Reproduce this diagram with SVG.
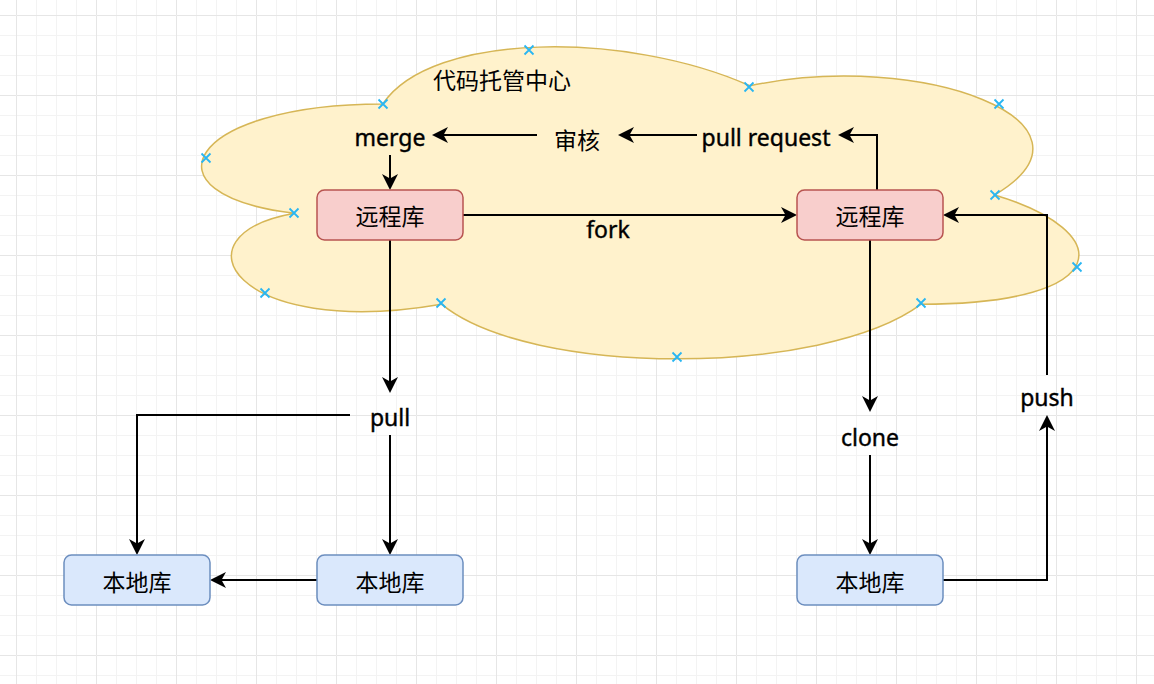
<svg xmlns="http://www.w3.org/2000/svg" width="1154" height="684" viewBox="0 0 1154 684">
  <defs>
    <pattern id="grid" x="16" y="15" width="80" height="80" patternUnits="userSpaceOnUse">
      <path d="M20,0 V80 M40,0 V80 M60,0 V80 M0,20 H80 M0,40 H80 M0,60 H80" stroke="#f3f3f3" stroke-width="1" fill="none" transform="translate(0.5,0.5)"/>
      <path d="M0,0 V80 M0,0 H80" stroke="#e6e6e6" stroke-width="1" fill="none" transform="translate(0.5,0.5)"/>
    </pattern>
    <marker id="arrow" viewBox="-17 -9 18 18" markerWidth="18" markerHeight="18" refX="-10" refY="0" orient="auto" markerUnits="userSpaceOnUse">
      <path d="M0,0 L-16,-8 L-11.5,0 L-16,8 Z" fill="#000"/>
    </marker>
    <path id="xm" d="M-4.5,-4.5 L4.5,4.5 M-4.5,4.5 L4.5,-4.5" stroke="#29b6f2" stroke-width="1.8" fill="none"/>
  </defs>
  <style>
    .cjk { font-family: "Noto Sans CJK SC", "Noto Sans", sans-serif; font-size: 23px; fill: #000; text-anchor: middle; dominant-baseline: central; }
    .lat { font-family: "Noto Sans", "Liberation Sans", sans-serif; font-size: 23px; fill: #000; stroke: #000; stroke-width: 0.4; text-anchor: middle; }
    .remote { fill: #f8cecc; stroke: #b85450; stroke-width: 1.5; }
    .local { fill: #dae8fc; stroke: #6c8ebf; stroke-width: 1.5; }
    .edge { fill: none; stroke: #000; stroke-width: 2; marker-end: url(#arrow); }
  </style>

  <rect x="0" y="0" width="1154" height="684" fill="#ffffff"/>
  <rect x="0" y="0" width="1154" height="684" fill="url(#grid)"/>

  <g id="cloud">
    <path d="M382.75,104 C186.95,104 138,195 294.64,213.2 C170,235 235,340 441.49,304.2 C529.6,377 823.3,377 921.2,304.2 C1117,304.2 1117,231.4 994.6,195 C1117,122.2 921.2,49.4 749.9,85.8 C627.5,31.2 431.7,31.2 382.75,104 Z" fill="#fff2cc" stroke="#d6b656" stroke-width="1.5"/>
    <text class="cjk" x="502" y="79">代码托管中心</text>
    <g id="cloud-points">
      <use href="#xm" x="383" y="104"/>
      <use href="#xm" x="529" y="50"/>
      <use href="#xm" x="294" y="213"/>
      <use href="#xm" x="206" y="158"/>
      <use href="#xm" x="441" y="303"/>
      <use href="#xm" x="265" y="293"/>
      <use href="#xm" x="921" y="303"/>
      <use href="#xm" x="677" y="357"/>
      <use href="#xm" x="995" y="195"/>
      <use href="#xm" x="1077" y="267"/>
      <use href="#xm" x="749" y="87"/>
      <use href="#xm" x="999" y="104"/>
    </g>
  </g>

  <g id="connectors">
    <path class="edge" d="M390,155 L390,180"/>
    <path class="edge" d="M537,135 L442,135"/>
    <path class="edge" d="M697,135 L628,135"/>
    <path class="edge" d="M877,190 L877,135 L848,135"/>
    <path class="edge" d="M463,215 L787,215"/>
    <path class="edge" d="M390,240 L390,383"/>
    <path class="edge" d="M350,415 L137,415 L137,545"/>
    <path class="edge" d="M390,435 L390,545"/>
    <path class="edge" d="M317,580 L220,580"/>
    <path class="edge" d="M870,240 L870,402"/>
    <path class="edge" d="M870,455 L870,545"/>
    <path class="edge" d="M943,580 L1047,580 L1047,425"/>
    <path class="edge" d="M1047,375 L1047,215 L953,215"/>
    <text class="lat" x="608" y="238">fork</text>
  </g>

  <g id="merge"><text class="lat" x="390" y="146">merge</text></g>
  <g id="review"><text class="cjk" x="577" y="139">审核</text></g>
  <g id="pull-request"><text class="lat" x="766" y="146">pull request</text></g>
  <g id="pull"><text class="lat" x="390" y="426">pull</text></g>
  <g id="clone"><text class="lat" x="870" y="446">clone</text></g>
  <g id="push"><text class="lat" x="1047" y="406">push</text></g>

  <g id="remote-left">
    <rect class="remote" x="317" y="190" width="146" height="50" rx="7.5"/>
    <text class="cjk" x="390" y="215">远程库</text>
  </g>
  <g id="remote-right">
    <rect class="remote" x="797" y="190" width="146" height="50" rx="7.5"/>
    <text class="cjk" x="870" y="215">远程库</text>
  </g>
  <g id="local-left">
    <rect class="local" x="64" y="555" width="146" height="50" rx="7.5"/>
    <text class="cjk" x="137" y="581">本地库</text>
  </g>
  <g id="local-middle">
    <rect class="local" x="317" y="555" width="146" height="50" rx="7.5"/>
    <text class="cjk" x="390" y="581">本地库</text>
  </g>
  <g id="local-right">
    <rect class="local" x="797" y="555" width="146" height="50" rx="7.5"/>
    <text class="cjk" x="870" y="581">本地库</text>
  </g>
</svg>
